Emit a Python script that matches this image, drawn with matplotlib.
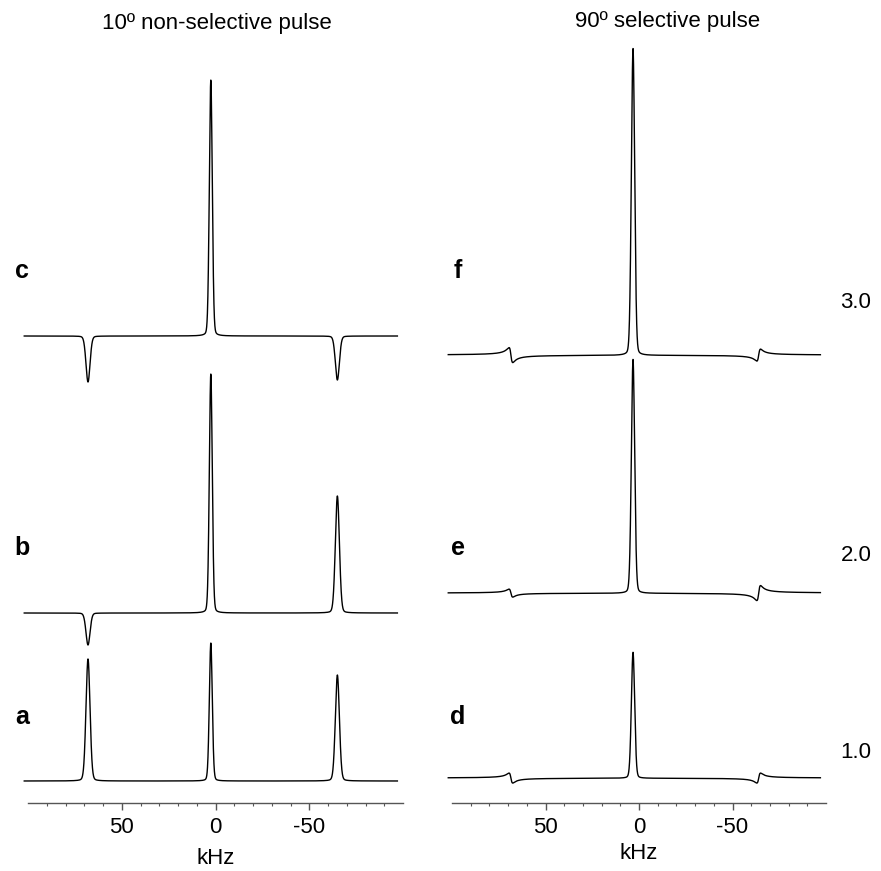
import matplotlib
matplotlib.use('Agg')
import matplotlib.pyplot as plt
import numpy as np

plt.rcParams['font.family'] = ['Liberation Sans', 'DejaVu Sans']
plt.rcParams['axes.unicode_minus'] = False

# ---------------- DATA ----------------
# peak positions (kHz)
left_centers = [68.0, 2.5, -65.0]
right_abs_center = 3.2
right_disp_centers = [68.5, -64.0]

# left panel: 10º non-selective pulse (baseline, amplitudes of the three lines)
left_labels = ['c', 'b', 'a']
left_baselines = [467, 190, 22]
left_amps = [
    [-46, 256, -44],
    [-32, 239, 117],
    [122, 138, 106],
]
left_widths = [1.1, 0.8, 1.1]

# right panel: 90º selective pulse (central line + dispersive satellites)
right_labels = ['f', 'e', 'd']
right_values = ['3.0', '2.0', '1.0']
right_baselines = [448, 210, 25]
right_center_amps = [307, 234, 126]
right_disp_amps = [
    [15, -12],
    [8, -15],
    [10, -10],
]
right_width = 0.9
disp_width = 1.0

freq = np.linspace(102, -97, 4000)


def line(x, x0, w):
    # mostly gaussian line with a small lorentzian foot
    g = np.exp(-0.5 * ((x - x0) / w) ** 2)
    lo = 1.0 / (1.0 + ((x - x0) / w) ** 2)
    return 0.85 * g + 0.15 * lo


def disp(x, x0, w):
    u = (x - x0) / w
    return u / (1.0 + u ** 2)


# ---------------- FIGURE ----------------
W, H = 881, 871
fig = plt.figure(figsize=(W / 100, H / 100), dpi=100)

ax_l = fig.add_axes([28 / W, 1 - 803 / H, 375 / W, 763 / H])
ax_r = fig.add_axes([452 / W, 1 - 803 / H, 374 / W, 763 / H])

for i, base in enumerate(left_baselines):
    y = np.full_like(freq, base, dtype=float)
    for c, a, w in zip(left_centers, left_amps[i], left_widths):
        y += a * line(freq, c, w)
    ax_l.plot(freq, y, color='black', linewidth=1.0, clip_on=False)

for i, base in enumerate(right_baselines):
    y = base + right_center_amps[i] * line(freq, right_abs_center, right_width)
    for c, a in zip(right_disp_centers, right_disp_amps[i]):
        y += a * disp(freq, c, disp_width)
    ax_r.plot(freq, y, color='black', linewidth=1.0, clip_on=False)

for ax in (ax_l, ax_r):
    ax.set_xlim(100, -100)
    ax.set_ylim(0, 763)
    for s in ('left', 'right', 'top'):
        ax.spines[s].set_visible(False)
    ax.spines['bottom'].set_color('#555555')
    ax.spines['bottom'].set_linewidth(1.0)
    ax.set_yticks([])
    ax.set_xticks([50, 0, -50])
    ax.set_xticks(np.arange(-90, 100, 10), minor=True)
    ax.tick_params(axis='x', which='major', length=5, width=1.0,
                   color='#555555', labelsize=16, pad=5)
    ax.tick_params(axis='x', which='minor', length=2.5, width=0.8,
                   color='#555555')
    ax.patch.set_alpha(0)

ax_l.set_xlabel('kHz', fontsize=16, labelpad=7)
ax_r.set_xlabel('kHz', fontsize=16, labelpad=4)

# titles
fig.text(217 / W, 1 - 24 / H, '10º non-selective pulse', fontsize=16,
         ha='center', va='center')
fig.text(668 / W, 1 - 22 / H, '90º selective pulse', fontsize=16,
         ha='center', va='center')

# trace labels
left_label_y = [271, 548, 717]
for lab, yy in zip(left_labels, left_label_y):
    fig.text(22 / W, 1 - yy / H, lab, fontsize=18, fontweight='bold',
             ha='center', va='center')
for lab, yy in zip(right_labels, left_label_y):
    fig.text(458 / W, 1 - yy / H, lab, fontsize=18, fontweight='bold',
             ha='center', va='center')

value_y = [302, 555, 752]
for val, yy in zip(right_values, value_y):
    fig.text(856 / W, 1 - yy / H, val, fontsize=16,
             ha='center', va='center')

plt.savefig('out.png', dpi=100)
